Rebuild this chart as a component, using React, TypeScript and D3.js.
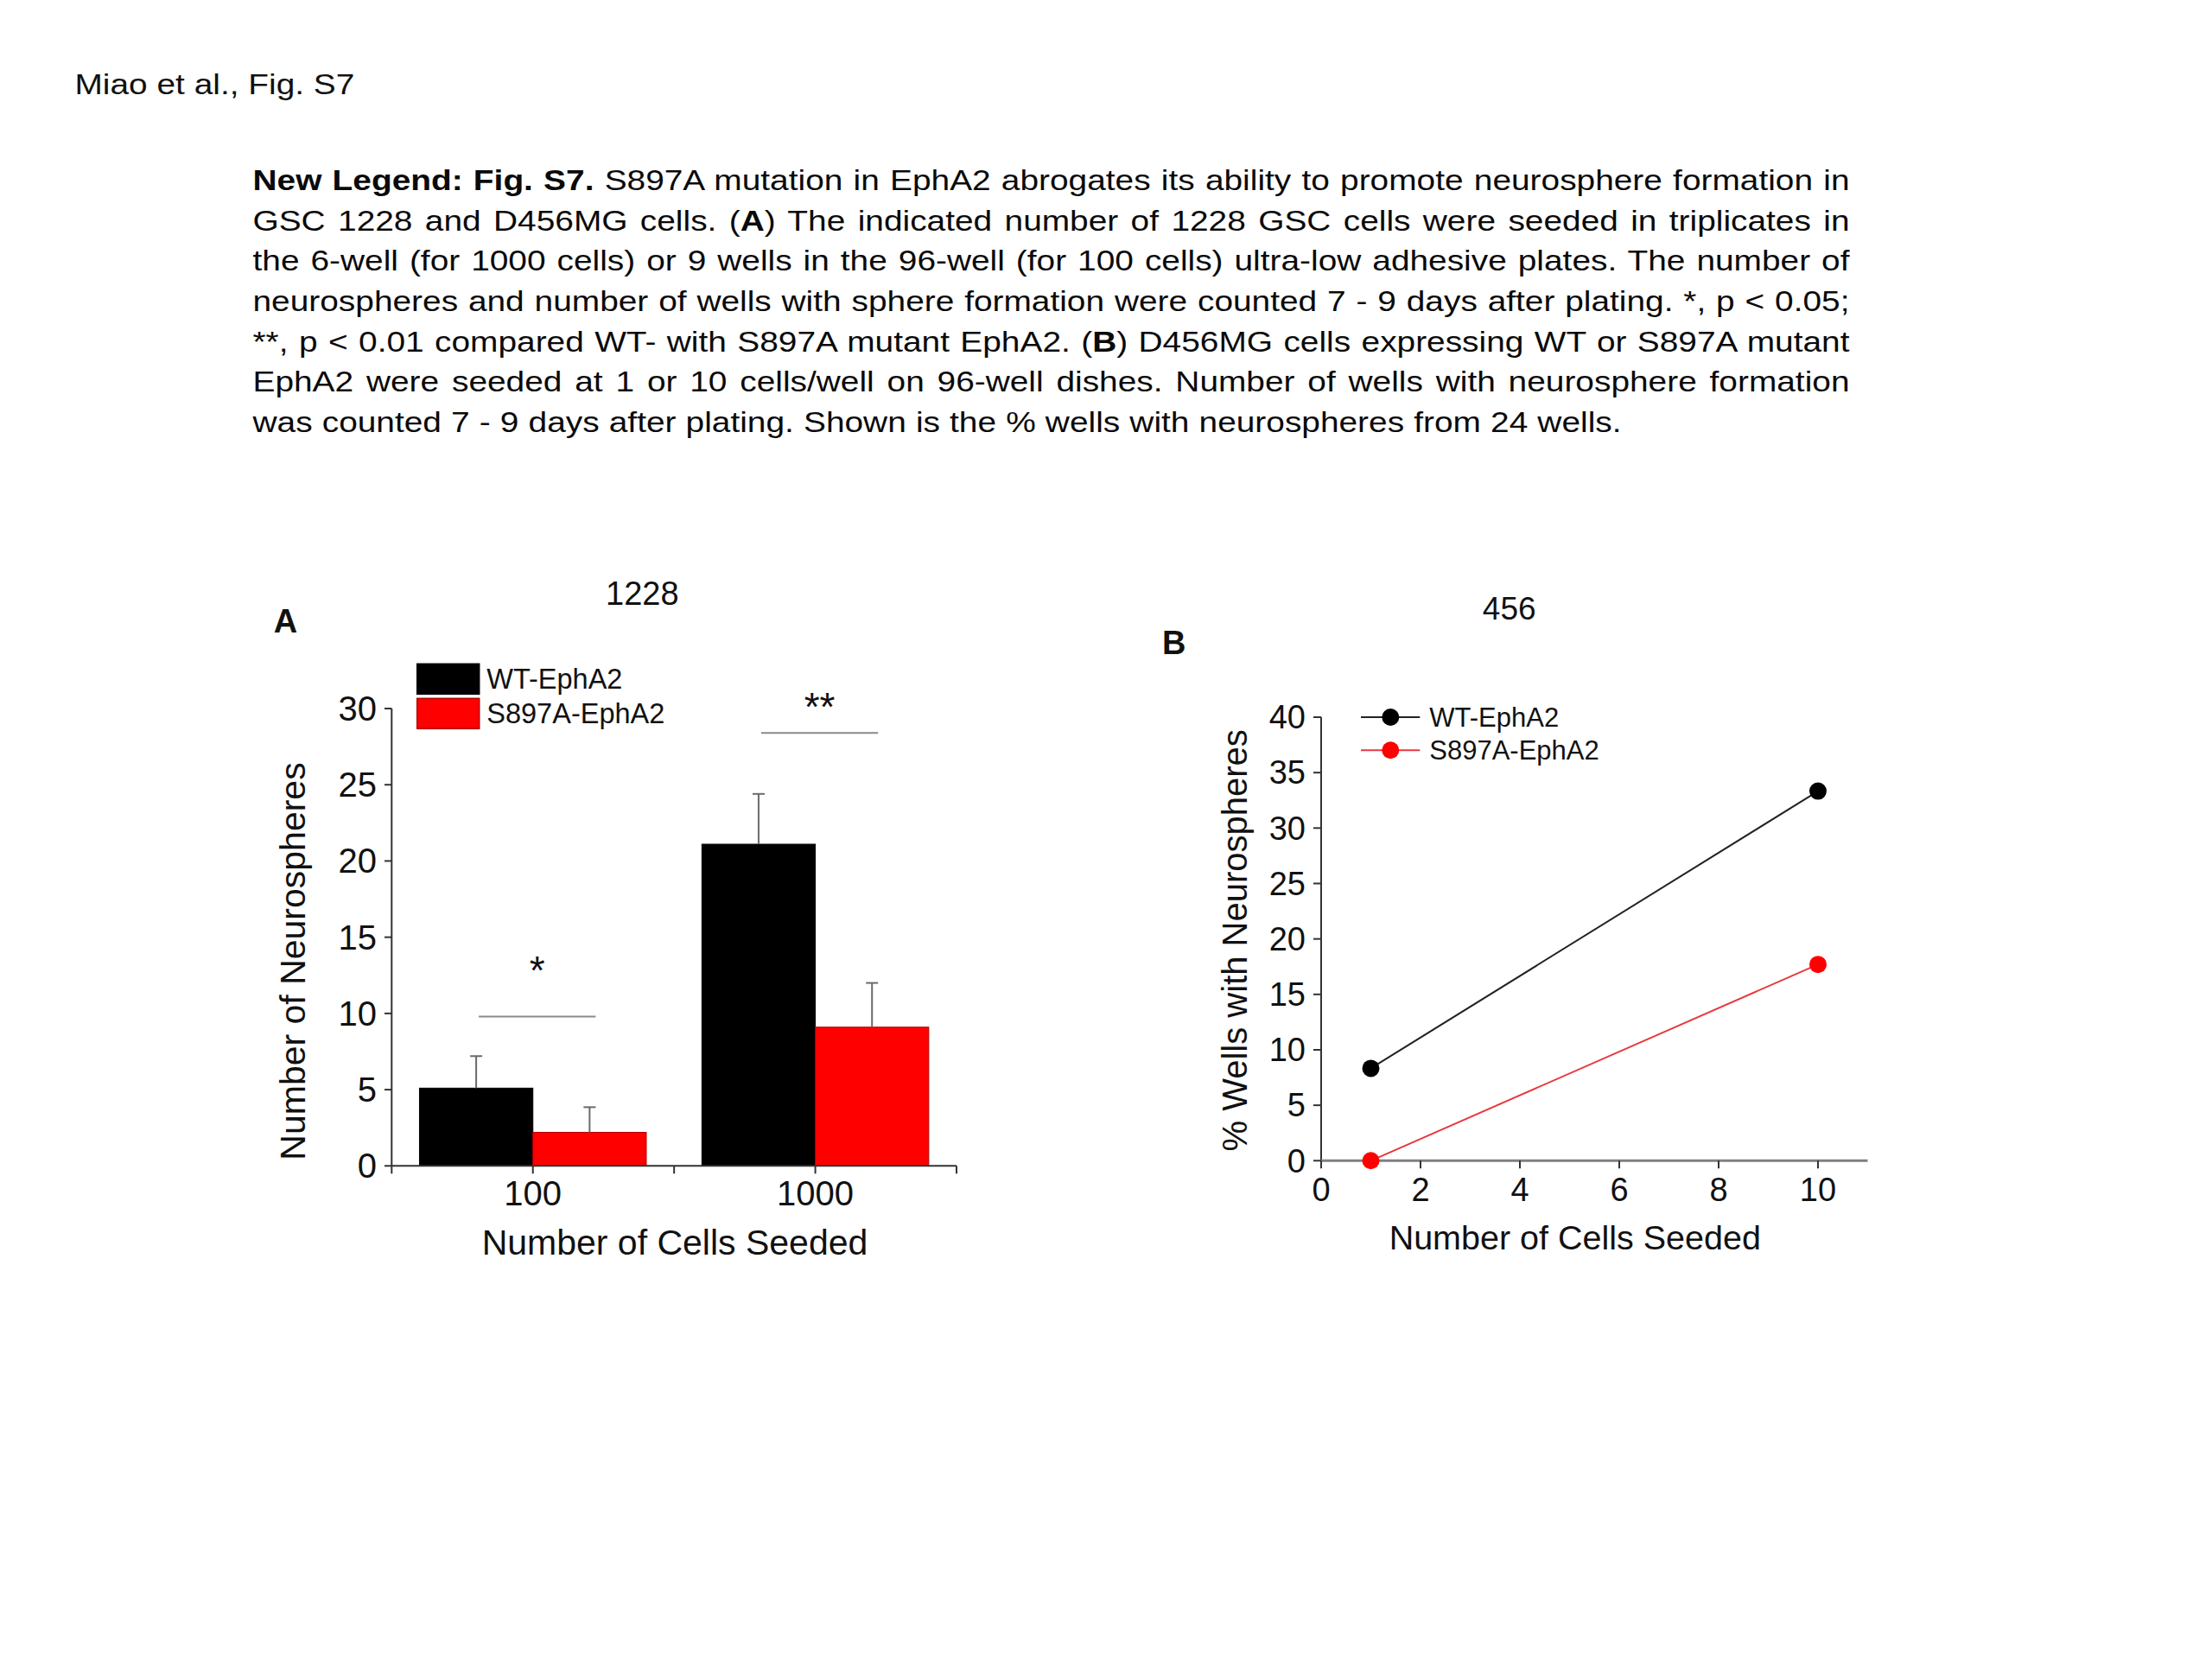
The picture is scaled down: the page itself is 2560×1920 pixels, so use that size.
import React, { useLayoutEffect, useRef } from "react";
import * as d3 from "d3";

const FONT = "'Liberation Sans', Arial, Helvetica, sans-serif";

// ---------- Panel A data (1228 GSC) ----------
const cellsA = ["100", "1000"];
const seriesA = ["WT-EphA2", "S897A-EphA2"];
const wtMeanA = [5.1, 21.1];
const wtErrA = [2.1, 3.3];
const mutMeanA = [2.2, 9.1];
const mutErrA = [1.65, 2.9];
const sigLabelsA = ["*", "**"];
const sigLineValA = [9.8, 28.4];
const sigStarValA = [11.9, 29.2];
const yTicksA = [0, 5, 10, 15, 20, 25, 30];

// ---------- Panel B data (D456MG) ----------
const cellsB = [1, 10];
const wtPctB = [8.33, 33.33];
const mutPctB = [0, 17.7];
const yTicksB = [0, 5, 10, 15, 20, 25, 30, 35, 40];
const xTicksB = [0, 2, 4, 6, 8, 10];

// ---------- Texts ----------
const headerText = "Miao et al., Fig. S7";
const captionLines: [string, boolean][][] = [
  [["New Legend: Fig. S7.", true], [" S897A mutation in EphA2 abrogates its ability to promote neurosphere formation in", false]],
  [["GSC 1228 and D456MG cells. (", false], ["A", true], [") The indicated number of 1228 GSC cells were seeded in triplicates in", false]],
  [["the 6-well (for 1000 cells) or 9 wells in the 96-well (for 100 cells) ultra-low adhesive plates. The number of", false]],
  [["neurospheres and number of wells with sphere formation were counted 7 - 9 days after plating. *, p < 0.05;", false]],
  [["**, p < 0.01 compared WT- with S897A mutant EphA2. (", false], ["B", true], [") D456MG cells expressing WT or S897A mutant", false]],
  [["EphA2 were seeded at 1 or 10 cells/well on 96-well dishes. Number of wells with neurosphere formation", false]],
  [["was counted 7 - 9 days after plating. Shown is the % wells with neurospheres from 24 wells.", false]],
];
const captionWidths = [1848, 1848, 1848, 1848, 1848, 1848, 1584];

export default function App() {
  const capRefs = useRef<(SVGTextElement | null)[]>([]);
  const capScale = 1.16;

  useLayoutEffect(() => {
    capRefs.current.forEach((el, i) => {
      if (!el) return;
      el.setAttribute("word-spacing", "0");
      const natural = el.getComputedTextLength();
      const text = captionLines[i].map((s) => s[0]).join("");
      const spaces = (text.match(/ /g) || []).length;
      const ws = spaces > 0 ? (captionWidths[i] / capScale - natural) / spaces : 0;
      el.setAttribute("word-spacing", String(ws));
    });
  }, []);

  // Panel A scales
  const yA = d3.scaleLinear().domain([0, 30]).range([1349.3, 820]);
  const xA = d3.scaleBand<string>().domain(cellsA).range([453.3, 1107]).padding(0);
  const xSub = d3
    .scaleBand<string>()
    .domain(seriesA)
    .range([0, xA.bandwidth()])
    .paddingOuter(0.245)
    .paddingInner(0);
  const bw = xSub.bandwidth();
  const colorsA = ["#000000", "#ff0000"];
  const strokesA = ["#000000", "#b00000"];
  const meansA = [wtMeanA, mutMeanA];
  const errsA = [wtErrA, mutErrA];

  const xTickPosA: number[] = [];
  cellsA.forEach((c) => {
    xTickPosA.push(xA(c)!);
    xTickPosA.push(xA(c)! + xA.bandwidth() / 2);
  });
  xTickPosA.push(xA.range()[1]);

  // Panel B scales
  const xB = d3.scaleLinear().domain([0, 11]).range([1529, 2161.5]);
  const yB = d3.scaleLinear().domain([0, 40]).range([1343.3, 830]);
  const lineB = d3
    .line<[number, number]>()
    .x((d) => xB(d[0]))
    .y((d) => yB(d[1]));
  const wtPts: [number, number][] = cellsB.map((c, i) => [c, wtPctB[i]]);
  const mutPts: [number, number][] = cellsB.map((c, i) => [c, mutPctB[i]]);
  const legendB = [
    { name: seriesA[0], line: "#222222", fill: "#000000", y: 830 },
    { name: seriesA[1], line: "#e8383d", fill: "#ff0000", y: 868.3 },
  ];

  const axisColor = "#333333";

  return (
    <svg
      width={2560}
      height={1920}
      style={{ position: "absolute", left: 0, top: 0, background: "#ffffff" }}
      fontFamily={FONT}
    >
      <rect x={0} y={0} width={2560} height={1920} fill="#ffffff" />

      {/* Header */}
      <text transform={`translate(86.5,109) scale(${capScale},1)`} fontSize={33.5} fill="#111">
        {headerText}
      </text>

      {/* Caption */}
      {captionLines.map((segs, i) => (
        <text
          key={i}
          ref={(el) => {
            capRefs.current[i] = el;
          }}
          transform={`translate(292.5,${220 + i * 46.67}) scale(${capScale},1)`}
          fontSize={33.5}
          fill="#0a0a0a"
        >
          {segs.map(([t, b], j) => (
            <tspan key={j} fontWeight={b ? "bold" : "normal"}>
              {t}
            </tspan>
          ))}
        </text>
      ))}

      {/* ================= Panel A ================= */}
      <text x={316.7} y={731.7} fontSize={38} fontWeight="bold" fill="#111">A</text>
      <text x={743.3} y={700} fontSize={38} textAnchor="middle" fill="#111">1228</text>

      {/* bars */}
      {cellsA.map((c, ci) =>
        seriesA.map((s, si) => {
          const x0 = xA(c)! + xSub(s)!;
          const v = meansA[si][ci];
          return (
            <rect
              key={c + s}
              x={x0}
              y={yA(v)}
              width={bw}
              height={yA(0) - yA(v)}
              fill={colorsA[si]}
              stroke={strokesA[si]}
              strokeWidth={1}
            />
          );
        })
      )}
      {/* error bars */}
      {cellsA.map((c, ci) =>
        seriesA.map((s, si) => {
          const cx = xA(c)! + xSub(s)! + bw / 2;
          const v = meansA[si][ci];
          const e = errsA[si][ci];
          return (
            <g key={"e" + c + s} stroke="#6a6a6a" strokeWidth={2}>
              <line x1={cx} x2={cx} y1={yA(v)} y2={yA(v + e)} />
              <line x1={cx - 7} x2={cx + 7} y1={yA(v + e)} y2={yA(v + e)} />
            </g>
          );
        })
      )}
      {/* significance */}
      {cellsA.map((c, ci) => {
        const x1 = xA(c)! + xSub(seriesA[0])! + bw / 2 + 3;
        const x2 = xA(c)! + xSub(seriesA[1])! + bw / 2 + 7;
        return (
          <g key={"sig" + c}>
            <line x1={x1} x2={x2} y1={yA(sigLineValA[ci])} y2={yA(sigLineValA[ci])} stroke="#8a8a8a" strokeWidth={2} />
            <text x={(x1 + x2) / 2} y={yA(sigStarValA[ci])} fontSize={46} textAnchor="middle" fill="#111">
              {sigLabelsA[ci]}
            </text>
          </g>
        );
      })}

      {/* axes A */}
      <line x1={453.3} x2={453.3} y1={yA(30)} y2={yA(0)} stroke={axisColor} strokeWidth={2} />
      {yTicksA.map((t) => (
        <g key={"ya" + t}>
          <line x1={445} x2={453.3} y1={yA(t)} y2={yA(t)} stroke={axisColor} strokeWidth={2} />
          <text x={436} y={yA(t)} dy="0.35em" fontSize={40} textAnchor="end" fill="#111">
            {t}
          </text>
        </g>
      ))}
      <line x1={xA.range()[0]} x2={xA.range()[1]} y1={yA(0)} y2={yA(0)} stroke={axisColor} strokeWidth={2} />
      {xTickPosA.map((x, i) => (
        <line key={"xt" + i} x1={x} x2={x} y1={yA(0)} y2={yA(0) + 9} stroke={axisColor} strokeWidth={2} />
      ))}
      {cellsA.map((c) => (
        <text key={"xl" + c} x={xA(c)! + xA.bandwidth() / 2} y={1395} fontSize={40} textAnchor="middle" fill="#111">
          {c}
        </text>
      ))}
      <text x={781} y={1451.7} fontSize={41} textAnchor="middle" fill="#111">
        Number of Cells Seeded
      </text>
      <text transform="translate(353,1112.5) rotate(-90)" fontSize={41} textAnchor="middle" fill="#111">
        Number of Neurospheres
      </text>

      {/* legend A */}
      {seriesA.map((s, si) => (
        <g key={"lgA" + s}>
          <rect x={482.7} y={768.3 + si * 40} width={72} height={35} fill={colorsA[si]} stroke={strokesA[si]} strokeWidth={1.5} />
          <text x={563.3} y={796.7 + si * 40} fontSize={32.5} fill="#111">
            {s}
          </text>
        </g>
      ))}

      {/* ================= Panel B ================= */}
      <text x={1345} y={756.7} fontSize={38} fontWeight="bold" fill="#111">B</text>
      <text x={1746.7} y={716.7} fontSize={37} textAnchor="middle" fill="#111">456</text>

      {/* axes B */}
      <line x1={1529} x2={1529} y1={yB(40)} y2={yB(0)} stroke={axisColor} strokeWidth={2} />
      {yTicksB.map((t) => (
        <g key={"yb" + t}>
          <line x1={1520} x2={1529} y1={yB(t)} y2={yB(t)} stroke={axisColor} strokeWidth={2} />
          <text x={1511} y={yB(t)} dy="0.35em" fontSize={38} textAnchor="end" fill="#111">
            {t}
          </text>
        </g>
      ))}
      <line x1={xB(0)} x2={xB(11)} y1={yB(0)} y2={yB(0)} stroke="#808080" strokeWidth={3} />
      {xTicksB.map((t) => (
        <g key={"xb" + t}>
          <line x1={xB(t)} x2={xB(t)} y1={yB(0)} y2={yB(0) + 9} stroke={axisColor} strokeWidth={2} />
          <text x={xB(t)} y={1390} fontSize={38} textAnchor="middle" fill="#111">
            {t}
          </text>
        </g>
      ))}
      <text x={1822.8} y={1446} fontSize={39.5} textAnchor="middle" fill="#111">
        Number of Cells Seeded
      </text>
      <text transform="translate(1443.3,1088.3) rotate(-90)" fontSize={40} textAnchor="middle" fill="#111">
        % Wells with Neurospheres
      </text>

      {/* lines */}
      <path d={lineB(wtPts)!} fill="none" stroke="#222222" strokeWidth={2} />
      <path d={lineB(mutPts)!} fill="none" stroke="#e8383d" strokeWidth={2} />
      {wtPts.map((p, i) => (
        <circle key={"wp" + i} cx={xB(p[0])} cy={yB(p[1])} r={10} fill="#000000" />
      ))}
      {mutPts.map((p, i) => (
        <circle key={"mp" + i} cx={xB(p[0])} cy={yB(p[1])} r={10} fill="#ff0000" />
      ))}

      {/* legend B */}
      {legendB.map((l) => (
        <g key={"lgB" + l.name}>
          <line x1={1575} x2={1643.3} y1={l.y} y2={l.y} stroke={l.line} strokeWidth={2} />
          <circle cx={1609.3} cy={l.y} r={10} fill={l.fill} />
          <text x={1654.3} y={l.y} dy="0.35em" fontSize={31} fill="#111">
            {l.name}
          </text>
        </g>
      ))}
    </svg>
  );
}
